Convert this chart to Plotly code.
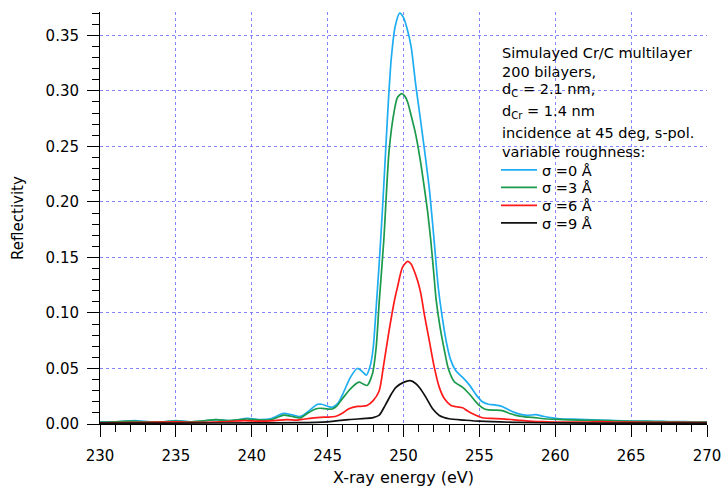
import plotly.graph_objects as go

# ---- data ----
e_s0 = [230.0, 231.0, 232.3, 233.3, 234.2, 235.0, 236.0, 237.0, 237.7, 238.6, 239.7, 240.6, 241.3,
        242.1, 242.6, 243.2, 243.7, 244.3, 244.6, 245.0, 245.3, 245.7, 246.0, 246.5, 246.95, 247.3,
        247.55, 247.8, 248.0, 248.2, 248.4, 248.6, 248.8, 249.0, 249.2, 249.45, 249.75, 250.0, 250.2,
        250.5, 250.8, 251.1, 251.4, 251.7, 252.0, 252.3, 252.6, 252.85, 253.1, 253.45, 253.9, 254.35,
        254.8, 255.2, 255.6, 256.0, 256.5, 256.9, 257.3, 257.8, 258.2, 258.7, 259.2, 259.8, 260.5,
        261.2, 262.0, 263.0, 264.0, 265.0, 266.0, 267.0, 268.0, 269.0, 270.0]
r_s0 = [0.002, 0.002, 0.003, 0.002, 0.002, 0.003, 0.002, 0.003, 0.004, 0.003, 0.005, 0.004, 0.005,
        0.0095, 0.0085, 0.0068, 0.011, 0.0175, 0.0178, 0.016, 0.015, 0.019, 0.027, 0.042, 0.050, 0.047,
        0.044, 0.052, 0.068, 0.105, 0.145, 0.19, 0.24, 0.29, 0.33, 0.358, 0.370, 0.366, 0.358,
        0.340, 0.306, 0.276, 0.245, 0.212, 0.168, 0.122, 0.092, 0.072, 0.058, 0.048, 0.042, 0.035,
        0.026, 0.020, 0.0178, 0.0172, 0.0158, 0.013, 0.0105, 0.0085, 0.0078, 0.0085, 0.007, 0.0055, 0.0045,
        0.0043, 0.004, 0.0035, 0.003, 0.0027, 0.0025, 0.0023, 0.0022, 0.002, 0.002]

e_s3 = [230.0, 231.0, 232.0, 233.0, 234.0, 235.0, 236.0, 237.0, 237.6, 238.5, 239.7, 240.6, 241.3,
        242.1, 242.6, 243.2, 243.66, 244.2, 244.5, 245.0, 245.3, 245.6, 245.97, 246.5, 247.07, 247.35,
        247.6, 247.95, 248.2, 248.4, 248.7, 249.05, 249.39, 249.6, 249.87, 250.1, 250.27, 250.5, 250.8,
        251.1, 251.37, 251.6, 251.8, 252.0, 252.15, 252.4, 252.7, 252.95, 253.35, 253.9, 254.34, 254.9,
        255.45, 256.0, 256.5, 257.0, 257.4, 258.0, 258.5, 259.5, 260.5, 261.5, 262.5, 263.5, 264.5,
        265.5, 266.5, 267.5, 268.5, 270.0]
r_s3 = [0.0015, 0.002, 0.0025, 0.002, 0.002, 0.0025, 0.002, 0.003, 0.004, 0.003, 0.0045, 0.0035, 0.004,
        0.008, 0.007, 0.0055, 0.0095, 0.0135, 0.0142, 0.0135, 0.0135, 0.016, 0.0227, 0.0317, 0.0377, 0.036,
        0.0347, 0.045, 0.069, 0.11, 0.165, 0.246, 0.282, 0.294, 0.2975, 0.295, 0.290, 0.278, 0.261,
        0.238, 0.213, 0.19, 0.165, 0.135, 0.112, 0.088, 0.066, 0.050, 0.038, 0.033, 0.027, 0.018,
        0.013, 0.0125, 0.012, 0.0095, 0.0077, 0.0065, 0.006, 0.0045, 0.004, 0.0035, 0.0033, 0.003, 0.0025,
        0.0024, 0.0022, 0.002, 0.0018, 0.0017]

e_s6 = [230.0, 233.0, 235.0, 236.0, 238.0, 239.5, 240.5, 241.5, 242.3, 243.0, 243.5, 244.5, 245.0,
        245.5, 246.0, 246.4, 246.96, 247.3, 247.6, 248.0, 248.4, 248.7, 249.05, 249.4, 249.6, 249.93,
        250.27, 250.5, 250.7, 250.95, 251.15, 251.37, 251.7, 252.03, 252.36, 252.7, 253.13, 253.5,
        253.9, 254.2, 254.56, 255.2, 255.8, 256.5, 257.5, 258.3, 259.0, 260.0, 262.0, 263.0, 264.0,
        266.0, 268.0, 270.0]
r_s6 = [0.001, 0.0015, 0.002, 0.0015, 0.002, 0.003, 0.0025, 0.003, 0.004, 0.0035, 0.0045, 0.006, 0.0062,
        0.0068, 0.010, 0.0137, 0.0158, 0.016, 0.0167, 0.021, 0.030, 0.054, 0.084, 0.111, 0.123, 0.141,
        0.1464, 0.144, 0.138, 0.128, 0.117, 0.099, 0.075, 0.051, 0.033, 0.0227, 0.0167, 0.0155,
        0.0146, 0.012, 0.0092, 0.0056, 0.005, 0.0047, 0.0035, 0.0025, 0.0022, 0.0018, 0.0018, 0.0022, 0.0018,
        0.0015, 0.0014, 0.0012]

e_s9 = [230.0, 235.0, 240.0, 243.0, 245.0, 246.4, 247.5, 248.0, 248.4, 248.8, 249.2, 249.5, 250.0,
        250.44, 250.8, 251.1, 251.48, 251.92, 252.36, 253.0, 254.0, 255.0, 257.6, 260.0, 265.0, 270.0]
r_s9 = [0.0008, 0.0008, 0.001, 0.0012, 0.002, 0.004, 0.005, 0.0058, 0.008, 0.017, 0.027, 0.033, 0.0375,
        0.039, 0.0365, 0.032, 0.024, 0.0137, 0.0077, 0.0047, 0.0035, 0.0025, 0.0014, 0.001, 0.0008, 0.0008]

series_names = ["σ =0 Å", "σ =3 Å", "σ =6 Å", "σ =9 Å"]
series_colors = ["#1fadf2", "#1c9a4c", "#ff1a1a", "#111111"]

x_ticks = [230, 235, 240, 245, 250, 255, 260, 265, 270]
y_ticks = [0.00, 0.05, 0.10, 0.15, 0.20, 0.25, 0.30, 0.35]

info_lines = ["Simulayed Cr/C multilayer", "200 bilayers,", "d<sub>C</sub> = 2.1 nm,",
              "d<sub>Cr</sub> = 1.4 nm", "incidence at 45 deg, s-pol.", "variable roughness:"]

# ---- layout geometry (screen pixels; page body margin is removed below) ----
W, H = 723, 489
PLOT_L, PLOT_R, PLOT_T, PLOT_B = 100, 707, 12, 424   # plot area on screen
L, T, R, B = PLOT_L, PLOT_T, W - PLOT_R, H - PLOT_B
PW, PH = PLOT_R - PLOT_L, PLOT_B - PLOT_T


def px_to_fx(px):
    return (px - PLOT_L) / PW


def py_to_fy(py):
    return (PLOT_B - py) / PH


info_y_px = [53, 71.5, 90.5, 112, 132.5, 151.5]
legend_y_px = [170, 187.5, 205.5, 223]

# ---- figure ----
fig = go.Figure()
legend_ids = ["legend", "legend2", "legend3", "legend4"]
for xs, ys, name, col, lid in zip([e_s0, e_s3, e_s6, e_s9], [r_s0, r_s3, r_s6, r_s9],
                                  series_names, series_colors, legend_ids):
    fig.add_trace(go.Scatter(x=xs, y=ys, mode="lines", name=name, legend=lid,
                             line=dict(color=col, width=1.7, shape="spline", smoothing=0.7)))

legend_layout = {}
for lid, ypx in zip(legend_ids, legend_y_px):
    legend_layout[lid] = dict(x=px_to_fx(496), y=py_to_fy(ypx), xanchor="left", yanchor="middle",
                              bgcolor="rgba(0,0,0,0)", font=dict(size=14.5), itemwidth=36,
                              borderwidth=0)

annotations = []
for line, ypx in zip(info_lines, info_y_px):
    annotations.append(dict(text=line, x=px_to_fx(499.5), y=py_to_fy(ypx), xref="paper", yref="paper",
                            xanchor="left", yanchor="middle", align="left", showarrow=False,
                            font=dict(size=14.5)))

grid_col = "rgba(110,110,255,0.85)"
fig.update_layout(
    width=W, height=H,
    margin=dict(l=L, r=R, t=T, b=B, autoexpand=False),
    paper_bgcolor="white", plot_bgcolor="white",
    font=dict(family="DejaVu Sans", size=15, color="black"),
    showlegend=True,
    annotations=annotations,
    **legend_layout,
)
fig.update_xaxes(
    range=[230, 270], tickvals=x_ticks, ticks="outside", ticklen=12, tickwidth=1, tickcolor="black",
    showline=True, linecolor="black", linewidth=1, zeroline=False, automargin=False,
    showgrid=True, gridcolor=grid_col, griddash="dot", gridwidth=1,
    minor=dict(dtick=1, tick0=230, ticks="outside", ticklen=7, tickcolor="black", showgrid=False),
    title=dict(text="X-ray energy (eV)", standoff=7, font=dict(size=16)), ticklabelstandoff=6,
)
fig.update_yaxes(
    range=[0, 0.371], tickvals=y_ticks, tickformat=".2f", ticks="outside", ticklen=12, tickwidth=1,
    tickcolor="black", showline=True, linecolor="black", linewidth=1, zeroline=False, automargin=False,
    showgrid=True, gridcolor=grid_col, griddash="dot", gridwidth=1,
    minor=dict(dtick=0.01, tick0=0, ticks="outside", ticklen=7, tickcolor="black", showgrid=False),
    title=dict(text="Reflectivity", standoff=18, font=dict(size=15)), ticklabelstandoff=5,
)

page_fix = ("document.documentElement.style.margin='0';document.body.style.margin='0';"
            "document.documentElement.style.overflow='hidden';document.body.style.overflow='hidden';")
fig.write_html("out.html", default_width=f"{W}px", default_height=f"{H}px", post_script=page_fix,
               config={"displayModeBar": False})
